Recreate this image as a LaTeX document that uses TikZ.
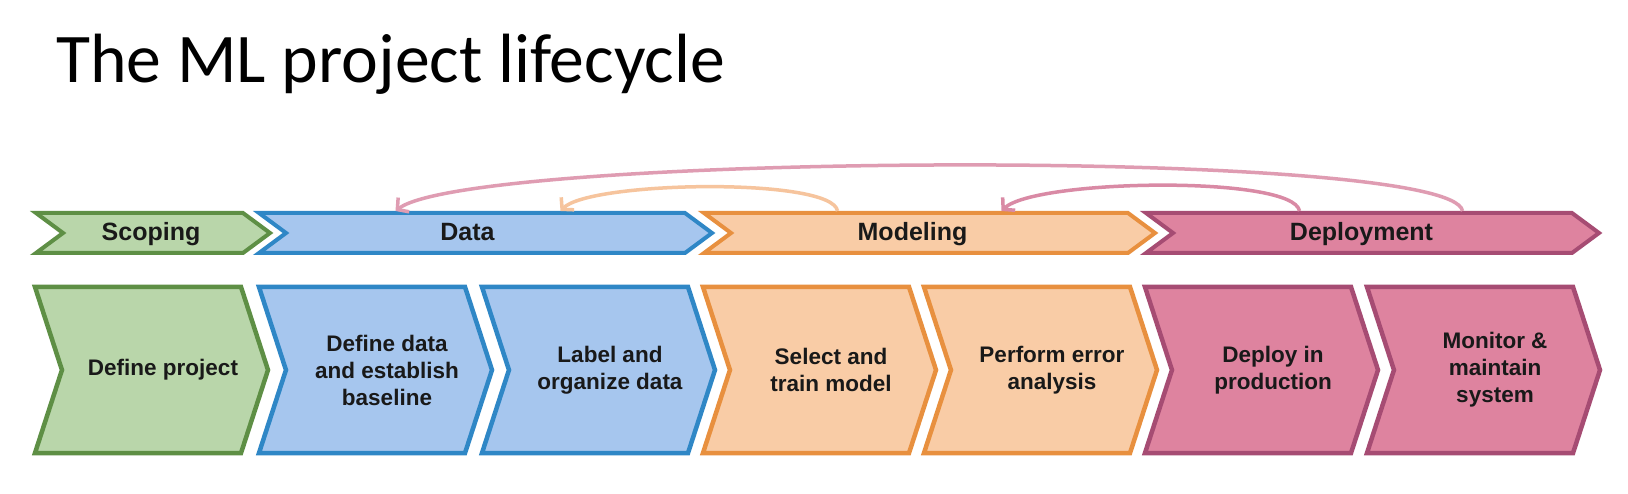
\documentclass[tikz,border=0pt]{standalone}
\usepackage{fontspec}
\newfontfamily\titlefont{Carlito}
\newfontfamily\stagefont{Liberation Sans}
\usepackage{tikz}
\usetikzlibrary{arrows.meta,positioning,shapes.symbols}

\definecolor{scopefill}{HTML}{B9D6AA}
\definecolor{scopeline}{HTML}{5E8F45}
\definecolor{datafill}{HTML}{A6C6EE}
\definecolor{dataline}{HTML}{2F87C6}
\definecolor{modelfill}{HTML}{F9CCA6}
\definecolor{modelline}{HTML}{E8903F}
\definecolor{deployfill}{HTML}{DE839F}
\definecolor{deployline}{HTML}{A64C73}
\definecolor{looppink}{HTML}{D98AA5}
\definecolor{looppeach}{HTML}{F6C49D}

\begin{document}
\begin{tikzpicture}[
    x=1pt, y=-1pt,
    phase/.style={signal, signal from=west, signal to=east, signal pointer angle=73, minimum height=40pt, inner sep=0pt, line width=4pt},
    task/.style={signal, signal from=west, signal to=east, signal pointer angle=144, minimum height=166pt, minimum width=233pt, inner sep=0pt, line width=4.5pt},
    phaselabel/.style={font=\stagefont\bfseries\fontsize{25}{30}\selectfont, text=black!90, anchor=base},
    tasklabel/.style={font=\stagefont\bfseries\fontsize{22.5}{27}\selectfont, align=center, text=black!90},
    back/.style={-{Straight Barb[length=8pt,width=18pt]}, line width=3.5pt}
]
\fill[white] (0,0) rectangle (1628,494);
\useasboundingbox (0,0) rectangle (1628,494);

% Title
\node[font=\titlefont\fontsize{69.7}{80}\selectfont, anchor=base west, inner sep=0pt] (title) at (56,83) {The ML project lifecycle};

% Phase row
\node[phase, fill=scopefill, draw=scopeline, minimum width=234pt] (scoping) at (153,233) {};
\node[phase, fill=datafill, draw=dataline, minimum width=453pt] (data) at (485.5,233) {};
\node[phase, fill=modelfill, draw=modelline, minimum width=451pt] (modeling) at (929.5,233) {};
\node[phase, fill=deployfill, draw=deployline, minimum width=453pt] (deployment) at (1372.5,233) {};

\node[phaselabel] (scopingtext) at ([xshift=-2pt,yshift=-8pt]scoping.center) {Scoping};
\node[phaselabel] (datatext) at ([xshift=-18pt,yshift=-8pt]data.center) {Data};
\node[phaselabel] (modelingtext) at ([xshift=-17pt,yshift=-8pt]modeling.center) {Modeling};
\node[phaselabel] (deploymenttext) at ([xshift=-11pt,yshift=-8pt]deployment.center) {Deployment};

% Task row
\node[task, fill=scopefill, draw=scopeline] (project) at (151.5,370) {};
\node[task, fill=datafill, draw=dataline] (baseline) at (375.5,370) {};
\node[task, fill=datafill, draw=dataline] (label) at (598.5,370) {};
\node[task, fill=modelfill, draw=modelline] (train) at (819.5,370) {};
\node[task, fill=modelfill, draw=modelline] (error) at (1040.5,370) {};
\node[task, fill=deployfill, draw=deployline] (deploy) at (1261.5,370) {};
\node[task, fill=deployfill, draw=deployline] (monitor) at (1483.5,370) {};

\node[tasklabel] (projecttext) at ([xshift=11.5pt]project.center) {Define project};
\node[tasklabel] (baselinetext) at ([xshift=11.5pt]baseline.center) {Define data\\and establish\\baseline};
\node[tasklabel] (labeltext) at ([xshift=11.5pt]label.center) {Label and\\organize data};
\node[tasklabel] (traintext) at ([xshift=11.5pt]train.center) {Select and\\train model};
\node[tasklabel] (errortext) at ([xshift=11.5pt]error.center) {Perform error\\analysis};
\node[tasklabel] (deploytext) at ([xshift=11.5pt]deploy.center) {Deploy in\\production};
\node[tasklabel] (monitortext) at ([xshift=11.5pt]monitor.center) {Monitor \&\\maintain\\system};

% Loops back
\draw[back, looppink!85] ([xshift=90pt]deployment.north) .. controls +(-10,-64) and +(75,-58) .. ([xshift=-90pt]data.north);
\draw[back, looppeach] ([xshift=-92pt]modeling.north) .. controls +(-5,-34) and +(29,-30) .. ([xshift=75pt]data.north);
\draw[back, looppink] ([xshift=-73pt]deployment.north) .. controls +(-6,-36) and +(33,-32) .. ([xshift=72pt]modeling.north);

\end{tikzpicture}
\end{document}
